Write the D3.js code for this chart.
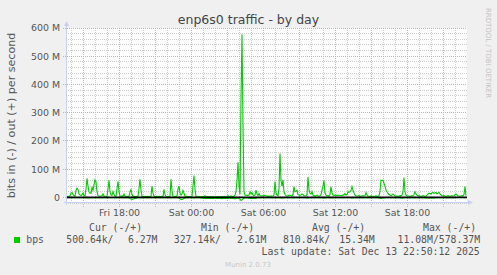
<!DOCTYPE html>
<html><head><meta charset="utf-8">
<script src="https://cdn.jsdelivr.net/npm/d3@7"></script>
<style>html,body{margin:0;padding:0;background:#f0f0f0;overflow:hidden}</style>
</head><body><svg id="c" width="497" height="275"></svg>
<script>
// ---- data (Mbit/s, one value per 5-minute step) ----
const outBps = [
3,4,3,5, 15,17,10, 6,5, 25,32,28,12, 8,7,9, 15, 6,5, 30,67,40,20, 15,14,
35,25,45,62,55,20, 6,5,4,5,6, 12,5, 4,3,4, 30,60,20, 8,7, 20,10, 5,4, 30,57,20,
5,4,5,4, 12,5, 4,3,4,4, 20,28,10, 3,4,3,3,4,3, 30,64,25, 4,3,3,4,3,3,4,3,3,4,
40,15, 4,3,3,4,3,4,3,3,4,3, 28,10, 4,3,4,3,4, 64,25, 4,3,4,3,5, 30,40,15,8,12,25,15,
4,3,4,3,3,4,3,4, 40,77,30, 4,3,2,3,2,2,3,2,3, 6,
2,3,2,2,3,2,2,3,2,2,3,2,3,2,2,3,2,2,3,2,3,2, 6, 3,2, 5, 3,2,4,
8,20,60,124,40, 10,350,578,250,20, 8,7,8,6,9,
20,12,17,8,6,9,26,12,6,14, 6,5,5,6,5,8,6,4,5,4,4,5,4,5,8,
56,15,8,6,30, 155,60,40,62,20,10, 6,5,6,8,7,6,5,10, 38,20,22,25,
10,8,7,8,12,10,6,5,6,10, 73,25,15,12,20, 8,5,6,5,8,6,5,6,10,25,40,
60,15,8, 5,6,5,10, 38,15,8, 6,8,7,8,6,8,7,6,8,7,9, 14, 8,10, 20,18,20, 25,38,25,15,
8,6,5,5,6,5,4,5,6,5,6, 17,8, 5,4,4,5,4,4,3,4,5,4,4,6,20, 61,60,61,50,
40,26,20,14,10,8, 6,8,12,8,6,5, 5,4,5,6,5,8,20, 70,20,8, 6,5,5,4,5,6,5,10,
20,12,8, 5,6,5,4,5,6,5,4,5,8,12,14, 14,12,15,18,14,16,17,13,15,18,12,
8,6,5,6,5,4,5,6,5,4,5,6,5,6,8, 12,8,6, 5,4,5,6,5,10, 38,6.27
];
const inBps = [
1,1.2,0.8,1,1.5,1.2,1,0.8,1,1.2, 1.5,1.2,1,0.8,1,1.2,1,0.8,1,1.2,
1.5,2,1.2,1,1.2,1.5,1.2,1.5,2,1.5, 1,0.8,1,0.8,1,1.2,1,0.8,1,1,
1.2,1.5,1.2,1,0.8,1,1.2,1,0.8,1, 1.2,1.5,1,0.8,1,0.8,1,1.2,1,0.8, 1,1.2,1,
4,6,7,6,5,4,3,2,
1,1.2,1.5,1,0.8,1,1.2,1,0.8,1, 1.2,1.5,1,0.8,1,1.2,1,0.8,1,1,
1.2,1,0.8,1,1.2,1,0.8,1,1,1.2, 1.5,1,0.8,1,1.2,1,0.8,1,1.2,1, 1.5,
3,5,7,7,6,4,3,
1.5,1.2,1,0.8,1,1.2,1,1.5,2,1.2, 1,0.8,1,1.2,1.5,2,2.5,3,3,
3,3.5,4,3.5,3,3.5,4,4,3.5,3, 3.5,4,4,3.5,3,3.5,4,4.5,4,3.5, 3,3.5,4,3.5,3,2.5,3,3.5,4,4.5, 5,
4,3,2,4, 6,11.08,9,5,3, 2,1.5,2,2.5,3, 3.5,4,3.5,3,3.5,4,3,2,
1.5,1.2,1,1.2,1.5,1.2,1,0.8,1,1.2, 1,0.8,1,1.2,1.5,1.2,1,1.5,2,1.5,
1.2,1.5,2.5,2,1.5,2,1.5,1.2,1,0.8, 1,1.2,1,0.8,1,1.5,2,1.5,1.2,1,
0.8,1,1.2,1,0.8,1,1.2,1.5,2,1.5, 2.5,2,1.5,1.2,1,0.8,1,1.2,1,0.8,
1,1.2,1.5,1.2,1.5,2,2.5,2,1.5,1.2, 1,0.8,1,1.5,2,1.5,1.2,1,0.8,1,
1.2,1,0.8,1,1.2,1,1.5,1.2,1,0.8, 1,1.2,1.5,2,2.5,2,1.5,1.2,1,0.8,
1,0.8,1,1.2,1,0.8,1,1.2,1.5,1.2, 1,0.8,1,0.8,1,1.2,1,0.8,1,1.2,
1.5,2,3,3.5,3,2.5,2,1.5,1.2,1, 0.8,1,1.2,1,0.8,1,1.2,1,0.8,1,
1.2,1.5,2,2.5,3,2,1.5,1.2,1,0.8, 1,1.2,1,0.8,1,1.2,1.5,1.2,1,0.8,
1,1.2,1,0.8,1,1.2,1.5,2,2.5,2, 2.5,3,2.5,2,2.5,3,2.5,2,1.5,1.2,
1,0.8,1,1.2,1,0.8,1,1.2,1,0.8, 1,1.2,1,0.8,1,1.2,1,0.8,0.6,0.5,
0.5,0.6,0.5,0.4,0.5,0.6,1,0.8,0.5
];
const yTickValues = [0,100,200,300,400,500,600];
const yTickLabels = ["0","100 M","200 M","300 M","400 M","500 M","600 M"];
const xTickLabels = ["Fri 18:00","Sat 00:00","Sat 06:00","Sat 12:00","Sat 18:00"];
const xTickDates = ["2025-12-12T18:00","2025-12-13T00:00","2025-12-13T06:00","2025-12-13T12:00","2025-12-13T18:00"];
const legendHeaders = ["Cur (-/+)","Min (-/+)","Avg (-/+)","Max (-/+)"];
const legendValues = ["500.64k/","6.27M","327.14k/","2.61M","810.84k/","15.34M","11.08M/578.37M"];
const seriesName = "bps";
const titleText = "enp6s0 traffic - by day";
const yTitle = "bits in (-) / out (+) per second";
const lastUpdate = "Last update: Sat Dec 13 22:50:12 2025";

// ---- chart ----
const svg = d3.select("#c");
const W = 497, H = 275;
const L = 67, R = 467, T = 28, B = 203;
const step = 5*60*1000;
const t0 = new Date(2025,11,12,13,37,30);
const t1 = new Date(t0.getTime() + outBps.length*step);
const x = d3.scaleTime().domain([t0,t1]).range([L,R]);
const y = d3.scaleLinear().domain([-20,600]).range([B,T]);
const tAt = i => new Date(t0.getTime() + i*step);
const SANS = "'DejaVu Sans', sans-serif", MONO = "'DejaVu Sans Mono', monospace";
const FONT = "#555";

svg.append("rect").attr("width",W).attr("height",H).attr("fill","#f0f0f0");
svg.append("rect").attr("x",L).attr("y",T).attr("width",R-L).attr("height",B-T).attr("fill","#fff");

const g = svg.append("g");
const crisp = v => Math.floor(v)+0.5;
// minor horizontal grid every 20M
const minorY = d3.range(-20, 601, 20).filter(v => v % 100 !== 0);
g.selectAll(".mh").data(minorY).enter().append("line")
  .attr("x1",L-1).attr("x2",R).attr("y1",d=>crisp(y(d))).attr("y2",d=>crisp(y(d)))
  .attr("stroke","#cfcfcf").attr("stroke-dasharray","1,1");
// minor vertical grid every hour
const hours = d3.timeHour.every(1).range(t0,t1).filter(d => d.getHours()%3 !== 0);
g.selectAll(".mv").data(hours).enter().append("line")
  .attr("x1",d=>crisp(x(d))).attr("x2",d=>crisp(x(d))).attr("y1",T).attr("y2",B+1)
  .attr("stroke","#cfcfcf").attr("stroke-dasharray","1,1");
// major grid
g.selectAll(".Mh").data(yTickValues).enter().append("line")
  .attr("x1",L-4).attr("x2",R).attr("y1",d=>crisp(y(d))).attr("y2",d=>crisp(y(d)))
  .attr("stroke","#eaa5a5").attr("stroke-dasharray","1,1");
const majHours = d3.timeHour.every(3).range(t0,t1);
g.selectAll(".Mv").data(majHours).enter().append("line")
  .attr("x1",d=>crisp(x(d))).attr("x2",d=>crisp(x(d))).attr("y1",T).attr("y2",B+4)
  .attr("stroke","#eaa5a5").attr("stroke-dasharray","1,1");

// series
const line = d3.line().x((d,i)=>x(tAt(i))).y(d=>y(d));
svg.append("path").datum(inBps.map(v=>-v)).attr("d",line)
  .attr("fill","none").attr("stroke","#00cc00").attr("stroke-width",1.1);
svg.append("path").datum(outBps).attr("d",line)
  .attr("fill","none").attr("stroke","#00cc00").attr("stroke-width",1.1);
// zero rule
svg.append("line").attr("x1",L).attr("x2",R).attr("y1",y(0)).attr("y2",y(0))
  .attr("stroke","#000").attr("stroke-width",1.7);

// axes
const AX = "#c8d0f2";
svg.append("line").attr("x1",L-0.5).attr("x2",L-0.5).attr("y1",B+2).attr("y2",T-4).attr("stroke",AX);
svg.append("path").attr("d",`M${L-3},${T-2}L${L+2},${T-2}L${L-0.5},${T-7}Z`).attr("fill",AX);
svg.append("line").attr("x1",L-3).attr("x2",R+2).attr("y1",B-0.5).attr("y2",B-0.5).attr("stroke",AX);
svg.append("path").attr("d",`M${R+1},${B-3}L${R+1},${B+2}L${R+6},${B-0.5}Z`).attr("fill",AX);

// tick labels
svg.selectAll(".yl").data(yTickValues).enter().append("text")
  .attr("x",60).attr("y",d=>y(d)+3.4).attr("text-anchor","end")
  .attr("font-family",SANS).attr("font-size",9.4).attr("fill",FONT)
  .text((d,i)=>yTickLabels[i]);
svg.selectAll(".xl").data(xTickDates).enter().append("text")
  .attr("x",d=>x(new Date(d))).attr("y",216).attr("text-anchor","middle")
  .attr("font-family",SANS).attr("font-size",9.4).attr("fill",FONT)
  .text((d,i)=>xTickLabels[i]);

// titles
svg.append("text").attr("x",248.5).attr("y",23.5).attr("text-anchor","middle")
  .attr("font-family",SANS).attr("font-size",12.5).attr("fill","#444").text(titleText);
svg.append("text").attr("transform","translate(15,115.5) rotate(-90)").attr("text-anchor","middle")
  .attr("font-family",SANS).attr("font-size",11.1).attr("fill",FONT).text(yTitle);
svg.append("text").attr("transform","translate(486,53) rotate(90)").attr("text-anchor","middle")
  .attr("font-family",SANS).attr("font-size",7).attr("fill","#c4c4c4").text("RRDTOOL / TOBI OETIKER");

// legend
const lg = svg.append("g").attr("font-family",MONO).attr("font-size",9.8).attr("fill",FONT);
const headX = [89, 201, 312, 423];
legendHeaders.forEach((h,i)=>lg.append("text").attr("x",headX[i]).attr("y",230.8).text(h));
svg.append("rect").attr("x",14).attr("y",237).attr("width",6).attr("height",6).attr("fill","#00cc00");
lg.append("text").attr("x",26.3).attr("y",243.2).text(seriesName);
const valX = [66.3, 128, 173.8, 237, 283, 339.3, 397.5];
legendValues.forEach((v,i)=>lg.append("text").attr("x",valX[i]).attr("y",243.2).text(v));
lg.append("text").attr("x",261.5).attr("y",254.8).text(lastUpdate);
svg.append("text").attr("x",248).attr("y",266.5).attr("text-anchor","middle")
  .attr("font-family",SANS).attr("font-size",7).attr("fill","#c8c8c8").text("Munin 2.0.73");
</script></body></html>
